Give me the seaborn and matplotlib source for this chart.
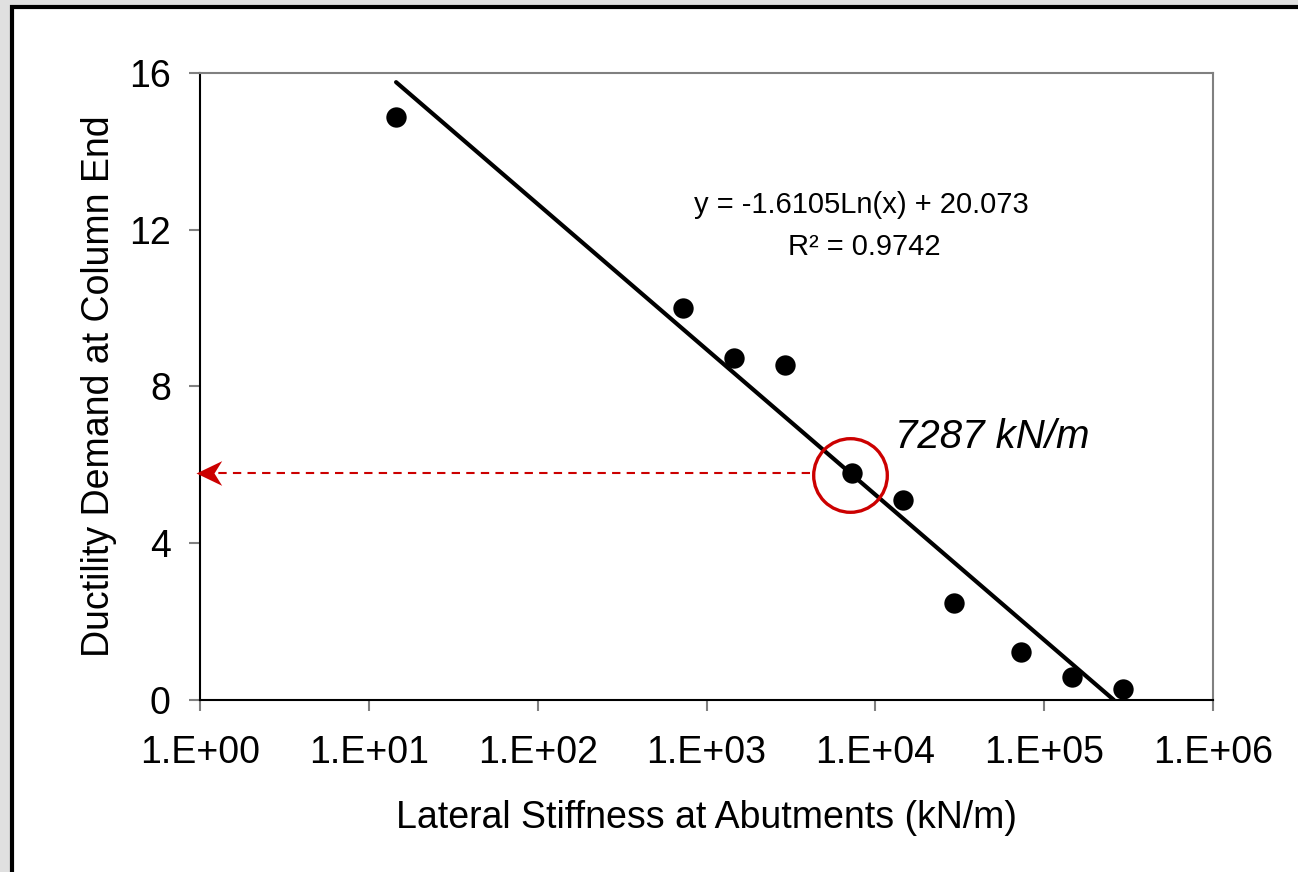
"""Ductility demand vs abutment lateral stiffness, with log trendline."""

import matplotlib

matplotlib.use("Agg")

import matplotlib.pyplot as plt
import numpy as np
import pandas as pd
import seaborn as sns
from matplotlib.patches import Rectangle
from matplotlib.path import Path
from matplotlib.ticker import FixedLocator, FuncFormatter, NullLocator

# data
stiffness = [14.5, 726, 1456, 2915, 7287, 14580, 29150, 72900, 145700, 291500]
ductility = [14.88, 10.0, 8.73, 8.55, 5.79, 5.10, 2.48, 1.22, 0.59, 0.28]
fit_slope = -1.6105
fit_intercept = 20.073
fit_r2 = 0.9742
highlight_k = 7287
x_decades = [0, 1, 2, 3, 4, 5, 6]
y_ticks = [0, 4, 8, 12, 16]

RED = "#cc0000"
GREY = "#808080"

# stealth-style arrow head, tip at the origin
STEALTH = Path([(0, 0), (2, 0.96), (1.4, 0), (2, -0.96), (0, 0)],
               [Path.MOVETO, Path.LINETO, Path.LINETO, Path.LINETO, Path.CLOSEPOLY])


def main() -> None:
    sns.set_theme(style="white")
    plt.rcParams["font.family"] = ["Liberation Sans", "DejaVu Sans"]
    plt.rcParams["text.color"] = "black"
    plt.rcParams["axes.labelcolor"] = "black"

    df = pd.DataFrame({"k": stiffness, "mu": ductility})
    root = np.exp(-fit_intercept / fit_slope)
    k_fit = np.geomspace(min(stiffness), root, 200)
    trend = pd.DataFrame({"k": k_fit, "mu": fit_slope * np.log(k_fit) + fit_intercept})

    fig = plt.figure(figsize=(12.98, 8.72), dpi=100)
    fig.patch.set_facecolor("#e0e0e0")
    fig.patches.append(Rectangle((12 / 1298, -0.05), 1.1, (872 - 7) / 872 + 0.05,
                                 transform=fig.transFigure, facecolor="white",
                                 edgecolor="black", linewidth=3, zorder=-1))
    ax = fig.add_axes([200 / 1298, 1 - 700 / 872, 1013 / 1298, 627 / 872])
    ax.set_facecolor("white")

    sns.lineplot(data=trend, x="k", y="mu", ax=ax, color="black", linewidth=3, zorder=2)
    sns.scatterplot(data=df, x="k", y="mu", ax=ax, color="black", s=215,
                    edgecolor="black", linewidth=0, zorder=3)

    ax.set_xscale("log")
    ax.set_xlim(10 ** x_decades[0], 10 ** x_decades[-1])
    ax.set_ylim(y_ticks[0], y_ticks[-1])
    ax.xaxis.set_major_locator(FixedLocator([10.0 ** d for d in x_decades]))
    ax.xaxis.set_minor_locator(NullLocator())
    ax.xaxis.set_major_formatter(FuncFormatter(lambda v, _: f"1.E+{int(round(np.log10(v))):02d}"))
    ax.set_yticks(y_ticks)

    for side in ("left", "bottom"):
        ax.spines[side].set_color("black")
        ax.spines[side].set_linewidth(1.5)
    for side in ("top", "right"):
        ax.spines[side].set_color(GREY)
        ax.spines[side].set_linewidth(1.5)
    ax.tick_params(axis="both", which="major", direction="out", length=8, width=1.5,
                   color=GREY, labelsize=27, labelcolor="black")
    ax.tick_params(axis="x", pad=17, bottom=True)
    ax.tick_params(axis="y", pad=13, left=True)

    ax.set_xlabel("Lateral Stiffness at Abutments (kN/m)", fontsize=27, labelpad=21)
    ax.set_ylabel("Ductility Demand at Column End", fontsize=27, labelpad=9)

    # highlighted point and read-off arrow
    hi = df.loc[df["k"] == highlight_k].iloc[0]
    ax.plot(hi["k"] * 0.97, hi["mu"] - 0.06, marker="o", markersize=53, markerfacecolor="none",
            markeredgecolor=RED, markeredgewidth=2.4, zorder=4)
    ax.plot([hi["k"] * 0.56, 1.25], [hi["mu"], hi["mu"]], color=RED, linewidth=1.5,
            linestyle=(0, (4, 3)), clip_on=False, zorder=4)
    ax.plot(0.947, hi["mu"], marker=STEALTH, markersize=37, color=RED,
            markeredgewidth=0, clip_on=False, zorder=5)
    ax.text(hi["k"] * 1.8, hi["mu"] + 0.92, f"{highlight_k} kN/m", fontsize=29,
            style="italic", ha="left", va="center")

    fig.text(861 / 1298, 1 - 205 / 872, f"y = {fit_slope}Ln(x) + {fit_intercept}",
             fontsize=21, ha="center", va="center")
    fig.text(864 / 1298, 1 - 247 / 872, f"R\u00b2 = {fit_r2}",
             fontsize=21, ha="center", va="center")

    fig.savefig("out.png", dpi=100, facecolor=fig.get_facecolor())
    plt.close(fig)


if __name__ == "__main__":
    main()
